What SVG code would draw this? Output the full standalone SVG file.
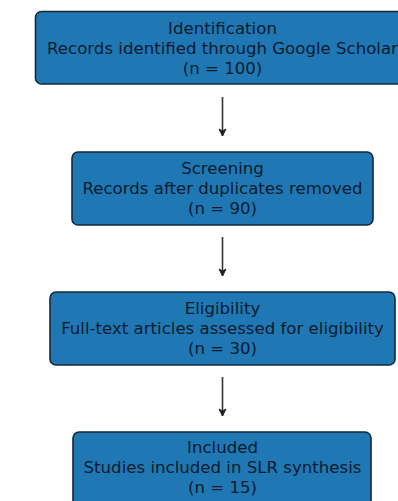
<svg xmlns="http://www.w3.org/2000/svg" width="398" height="501" viewBox="0 0 398 501">
<style>
.box{fill:#1f77b4;stroke:#14283c;stroke-width:1.6}
.t{font-family:"DejaVu Sans",sans-serif;font-size:16.6px;fill:#0b1b2d;text-anchor:middle;dominant-baseline:central}
.c{stroke:#333;stroke-width:1.6;fill:none}
</style>
<defs>
<marker id="ah" markerWidth="10" markerHeight="10" refX="8" refY="5" orient="auto" markerUnits="userSpaceOnUse">
<path d="M1,1.5 L8,5 L1,8.5 L3,5 Z" fill="#222" stroke="#222" stroke-width="1"/>
</marker>
</defs>
<rect width="398" height="501" fill="#fff"/>
<g id="identification">
<rect class="box" x="35.5" y="11.5" width="374" height="72.5" rx="6"/>
<text class="t" x="222.5" y="28.5">Identification</text>
<text class="t" x="222.5" y="48.5">Records identified through Google Scholar</text>
<text class="t" x="222.5" y="68">(n = 100)</text>
</g>
<g id="screening">
<rect class="box" x="72" y="152" width="301" height="73" rx="6"/>
<text class="t" x="222.5" y="168">Screening</text>
<text class="t" x="222.5" y="188">Records after duplicates removed</text>
<text class="t" x="222.5" y="208">(n = 90)</text>
</g>
<g id="eligibility">
<rect class="box" x="50" y="292" width="345" height="73" rx="6"/>
<text class="t" x="222.5" y="308">Eligibility</text>
<text class="t" x="222.5" y="328">Full-text articles assessed for eligibility</text>
<text class="t" x="222.5" y="348">(n = 30)</text>
</g>
<g id="included">
<rect class="box" x="73" y="432" width="298" height="80" rx="6"/>
<text class="t" x="222.5" y="447">Included</text>
<text class="t" x="222.5" y="467">Studies included in SLR synthesis</text>
<text class="t" x="222.5" y="487">(n = 15)</text>
</g>
<g id="connectors">
<line class="c" x1="222.5" y1="97" x2="222.5" y2="136" marker-end="url(#ah)"/>
<line class="c" x1="222.5" y1="237" x2="222.5" y2="276" marker-end="url(#ah)"/>
<line class="c" x1="222.5" y1="377" x2="222.5" y2="416" marker-end="url(#ah)"/>
</g>
</svg>
